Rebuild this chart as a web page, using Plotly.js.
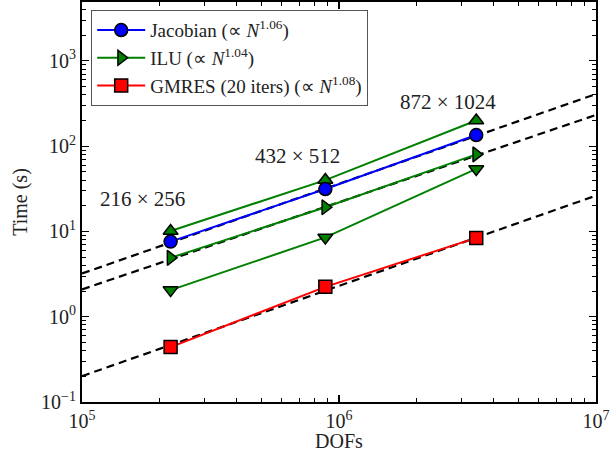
<!DOCTYPE html>
<html><head><meta charset="utf-8">
<script src="https://cdn.plot.ly/plotly-3.0.1.min.js"></script>
<style>body{margin:0;background:#fff}#c{width:610px;height:452px}</style>
</head><body><div id="c"></div>
<script>
// Data
const dofs = [221184, 884736, 3420000];
const jacobian = [7.6, 31.4, 135];
const iluRight = [4.9, 19.2, 80];
const iluUp = [10.1, 40, 200];
const iluDown = [2.05, 8.5, 54];
const gmres = [0.44, 2.24, 8.4];
const fitX = [1e5, 1e7];
const jacFit = [3.21, 408];
const iluFit = [2.09, 232];
const gmresFit = [0.201, 26.3];
const gridLabels = ['216 × 256', '432 × 512', '872 × 1024'];
const xTickVals = [1e5, 1e6, 1e7];
const xTickText = ['10<sup>5</sup>', '10<sup>6</sup>', '10<sup>7</sup>'];
const yTickVals = [0.1, 1, 10, 100, 1000];
const yTickText = ['10<sup>−1</sup>', '10<sup>0</sup>', '10<sup>1</sup>', '10<sup>2</sup>', '10<sup>3</sup>'];

const FONT = 'Liberation Serif, Times New Roman, serif';
function minorVals(lo, hi) {
  const v = [];
  for (let e = lo; e < hi; e++) for (let m = 2; m <= 9; m++) v.push(m * Math.pow(10, e));
  return v;
}
const mk = (sym, col) => ({symbol: sym, size: 13, color: col, line: {color: '#000', width: 1.5}});
const fit = y => ({x: fitX, y: y, mode: 'lines', showlegend: false, hoverinfo: 'skip',
  line: {color: '#000', width: 2.2, dash: '8px,5px'}});

const traces = [
  fit(jacFit), fit(iluFit), fit(gmresFit),
  {x: dofs, y: iluUp, mode: 'lines+markers', showlegend: false, line: {color: '#008000', width: 2}, marker: mk('triangle-up', '#008000')},
  {x: dofs, y: iluDown, mode: 'lines+markers', showlegend: false, line: {color: '#008000', width: 2}, marker: mk('triangle-down', '#008000')},
  {x: dofs, y: jacobian, mode: 'lines+markers', name: 'Jacobian (∝ <i>N</i><sup>1.06</sup>)', line: {color: '#0000ff', width: 2}, marker: mk('circle', '#0000ff'), legendrank: 1},
  {x: dofs, y: iluRight, mode: 'lines+markers', name: 'ILU (∝ <i>N</i><sup>1.04</sup>)', line: {color: '#008000', width: 2}, marker: mk('triangle-right', '#008000'), legendrank: 2},
  {x: dofs, y: gmres, mode: 'lines+markers', name: 'GMRES (20 iters) (∝ <i>N</i><sup>1.08</sup>)', line: {color: '#ff0000', width: 2}, marker: mk('square', '#ff0000'), legendrank: 3}
];

const axisCommon = {
  type: 'log', showgrid: false, zeroline: false, showline: true, linecolor: '#000', linewidth: 2,
  mirror: 'allticks', ticks: 'inside', ticklen: 7, tickwidth: 1.2, tickcolor: '#000',
  tickmode: 'array', tickfont: {family: FONT, size: 20, color: '#222'},
};
const annFont = {family: FONT, size: 21, color: '#222'};
const ann = (t, px, py) => ({text: t, xref: 'paper', yref: 'paper', x: (px - 82) / 514, y: (401.7 - py) / 399.7,
  xanchor: 'center', yanchor: 'middle', showarrow: false, font: annFont});
const layout = {
  width: 610, height: 452,
  margin: {l: 82, r: 14, t: 2, b: 50},
  paper_bgcolor: '#fff', plot_bgcolor: '#fff',
  font: {family: FONT, color: '#222'},
  xaxis: Object.assign({}, axisCommon, {range: [5, 7], tickvals: xTickVals, ticktext: xTickText,
    minor: {tickmode: 'array', tickvals: minorVals(5, 7), ticks: 'inside', ticklen: 4, tickcolor: '#000', tickwidth: 1},
    title: {text: 'DOFs', font: {family: FONT, size: 20, color: '#222'}, standoff: 4}}),
  yaxis: Object.assign({}, axisCommon, {range: [-1, 3.69], tickvals: yTickVals, ticktext: yTickText,
    minor: {tickmode: 'array', tickvals: minorVals(-1, 4), ticks: 'inside', ticklen: 4, tickcolor: '#000', tickwidth: 1},
    title: {text: 'Time (s)', font: {family: FONT, size: 20, color: '#222'}, standoff: 8}}),
  legend: {x: 0.0175, y: 0.98, xanchor: 'left', yanchor: 'top', bgcolor: '#fff', bordercolor: '#555', borderwidth: 1.2,
    font: {family: FONT, size: 19, color: '#222'}, itemwidth: 48, tracegroupgap: 0},
  annotations: [
    ann(gridLabels[0], 142, 199),
    ann(gridLabels[1], 297, 156),
    ann(gridLabels[2], 448, 102)
  ]
};
Plotly.newPlot('c', traces, layout, {staticPlot: true});
</script></body></html>
